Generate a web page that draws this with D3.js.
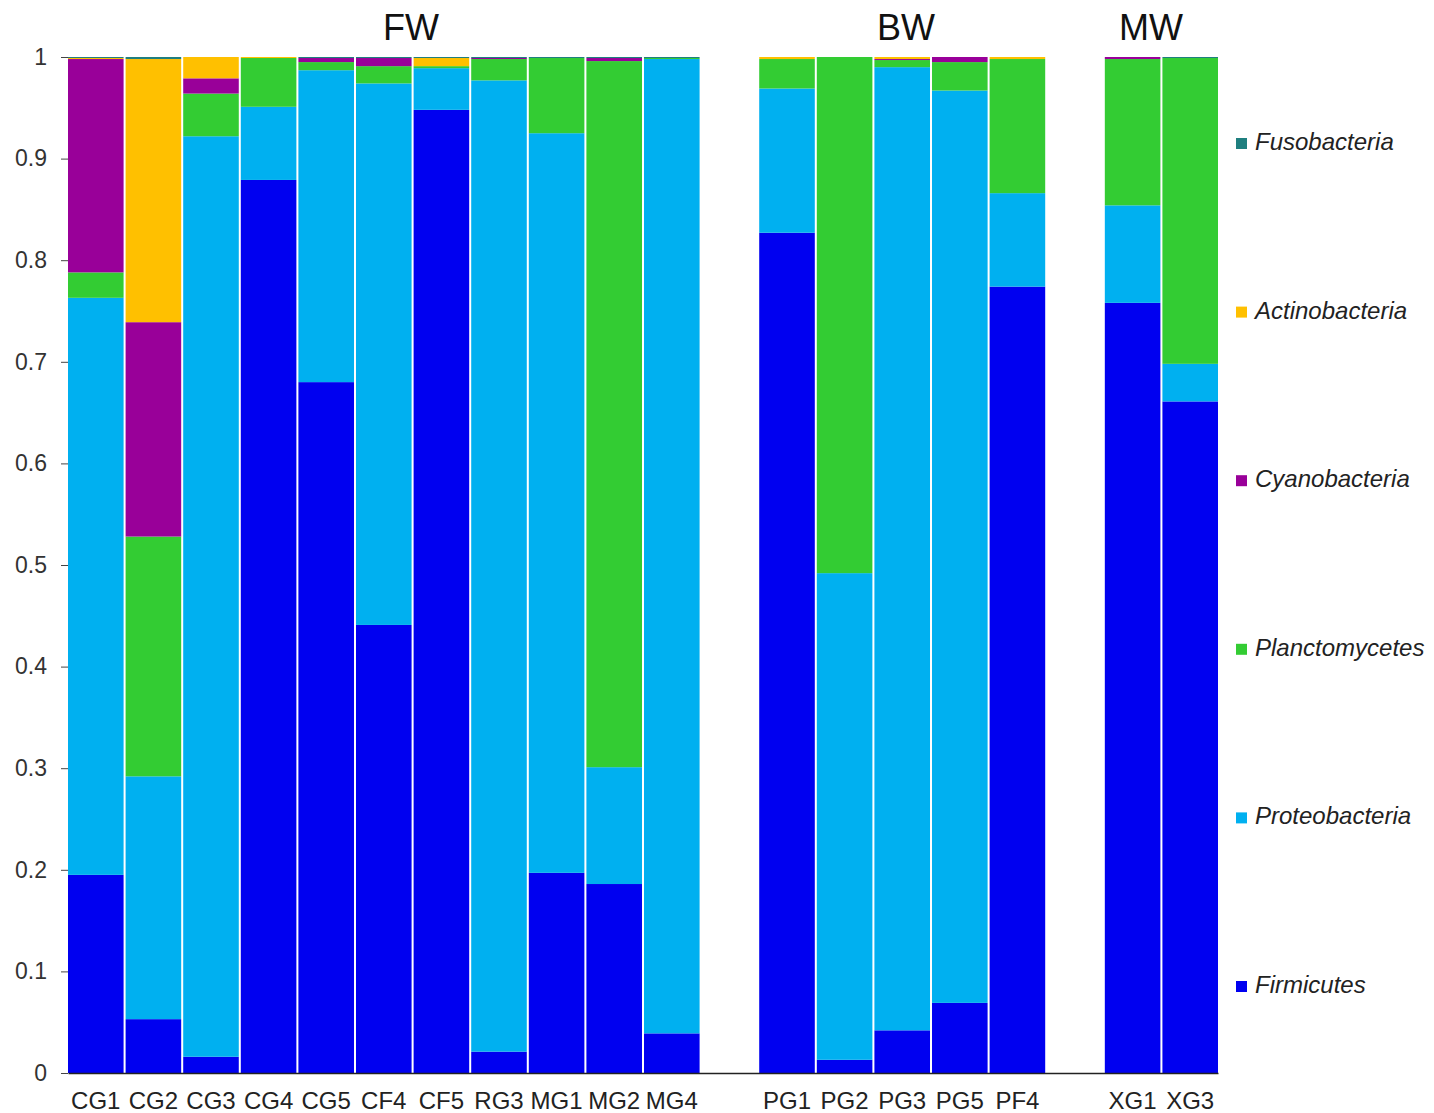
<!DOCTYPE html>
<html>
<head>
<meta charset="utf-8">
<script src="https://cdn.jsdelivr.net/npm/d3@7"></script>
<style>
  body { margin: 0; background: #fff; }
  text { font-family: "Liberation Sans", Arial, sans-serif; }
</style>
</head>
<body>
<svg id="graphique" width="1434" height="1113"></svg>
<script>
// categories ("gap" = empty slot between groups)
var samples = ["CG1","CG2","CG3","CG4","CG5","CF4","CF5","RG3","MG1","MG2","MG4","gap1",
               "PG1","PG2","PG3","PG5","PF4","gap2","XG1","XG3"];
var groups = [["FW", 411], ["BW", 906], ["MW", 1151]];

var phyla = ["Firmicutes","Proteobacteria","Planctomycetes","Cyanobacteria","Actinobacteria","Fusobacteria"];
var colors = ["#0000F0","#00B0F0","#33CC33","#990099","#FFC000","#1F7F7F"];

// relative abundances per sample (same order as samples, gaps are null)
var firmicutes     = [0.195,0.053,0.016,0.879,0.680,0.441,0.948,0.021,0.197,0.186,0.039,null,0.827,0.013,0.042,0.069,0.774,null,0.758,0.661];
var proteobacteria = [0.568,0.239,0.906,0.072,0.307,0.533,0.041,0.956,0.728,0.115,0.959,null,0.142,0.479,0.948,0.898,0.092,null,0.096,0.037];
var planctomycetes = [0.025,0.236,0.042,0.048,0.008,0.017,0.002,0.021,0.074,0.695,0.001,null,0.029,0.508,0.007,0.028,0.132,null,0.144,0.301];
var cyanobacteria  = [0.210,0.211,0.015,0.000,0.004,0.008,0.000,0.001,0.000,0.003,0.000,null,0.000,0.000,0.001,0.005,0.000,null,0.002,0.000];
var actinobacteria = [0.001,0.259,0.021,0.001,0.000,0.000,0.008,0.000,0.000,0.000,0.000,null,0.002,0.000,0.002,0.000,0.002,null,0.000,0.000];
var fusobacteria   = [0.001,0.002,0.000,0.000,0.001,0.001,0.001,0.001,0.001,0.001,0.001,null,0.000,0.000,0.000,0.000,0.000,null,0.000,0.001];

var yTicks = [0,0.1,0.2,0.3,0.4,0.5,0.6,0.7,0.8,0.9,1];

var series = [firmicutes, proteobacteria, planctomycetes, cyanobacteria, actinobacteria, fusobacteria];

var table = samples.map(function(s, i){
	var row = { sample: s };
	phyla.forEach(function(p, j){ row[p] = series[j][i] || 0; });
	return row;
});

var graphique = d3.select("#graphique");
var MARGINS = { top: 57, bottom: 40, left: 68, right: 216 };
var WIDTH = 1434, HEIGHT = 1113;

var xScale = d3.scaleBand().domain(samples)
	.range([MARGINS.left, WIDTH - MARGINS.right]).paddingInner(0.035).paddingOuter(0.0);
var yScale = d3.scaleLinear().domain([0,1]).range([HEIGHT - MARGINS.bottom, MARGINS.top]);

var layers = d3.stack().keys(phyla)(table);

graphique.append("g").selectAll("g")
	.data(layers).join("g")
	.attr("fill", function(d, i){ return colors[i]; })
	.selectAll("rect")
	.data(function(d){ return d.filter(function(e){ return e.data.sample.indexOf("gap") !== 0; }); })
	.join("rect")
	.attr("x", function(d){ return xScale(d.data.sample); })
	.attr("width", xScale.bandwidth())
	.attr("y", function(d){ return yScale(d[1]); })
	.attr("height", function(d){ return Math.max(0, yScale(d[0]) - yScale(d[1])); });

// x axis
var xAxis = graphique.append("g")
	.attr("transform", "translate(0," + (HEIGHT - MARGINS.bottom) + ")")
	.call(d3.axisBottom(xScale).tickSize(0).tickPadding(19)
		.tickFormat(function(d){ return d.indexOf("gap") === 0 ? "" : d; }));
xAxis.select(".domain").attr("stroke", "#222").attr("stroke-width", 1.5);
xAxis.selectAll("text").attr("font-size", 24).attr("fill", "#222")
	.attr("font-family", "Liberation Sans, Arial, sans-serif");

// y axis
var yAxis = graphique.append("g")
	.attr("transform", "translate(" + MARGINS.left + ",0)")
	.call(d3.axisLeft(yScale).tickValues(yTicks).tickSize(7).tickPadding(14)
		.tickFormat(function(d){ return d === 0 || d === 1 ? d3.format("d")(d) : d3.format(".1f")(d); }));
yAxis.select(".domain").remove();
yAxis.selectAll("line").attr("stroke", "#444");
yAxis.selectAll("text").attr("font-size", 23).attr("fill", "#333")
	.attr("font-family", "Liberation Sans, Arial, sans-serif");

// group titles
graphique.selectAll(".grp").data(groups).join("text")
	.attr("class", "grp")
	.attr("x", function(d){ return d[1]; })
	.attr("y", 40)
	.attr("text-anchor", "middle")
	.attr("font-size", 36)
	.attr("fill", "#111")
	.text(function(d){ return d[0]; });

// legend (top to bottom reversed)
var legendY = d3.scalePoint().domain(phyla.slice().reverse()).range([142, 985]);
var leg = graphique.append("g").selectAll("g")
	.data(phyla).join("g")
	.attr("transform", function(d){ return "translate(1236," + legendY(d) + ")"; });
leg.append("rect").attr("x", 0).attr("y", -4).attr("width", 11).attr("height", 11)
	.attr("fill", function(d, i){ return colors[i]; });
leg.append("text").attr("x", 19).attr("y", 8)
	.attr("font-size", 24).attr("font-style", "italic").attr("fill", "#222")
	.text(function(d){ return d; });
</script>
</body>
</html>
